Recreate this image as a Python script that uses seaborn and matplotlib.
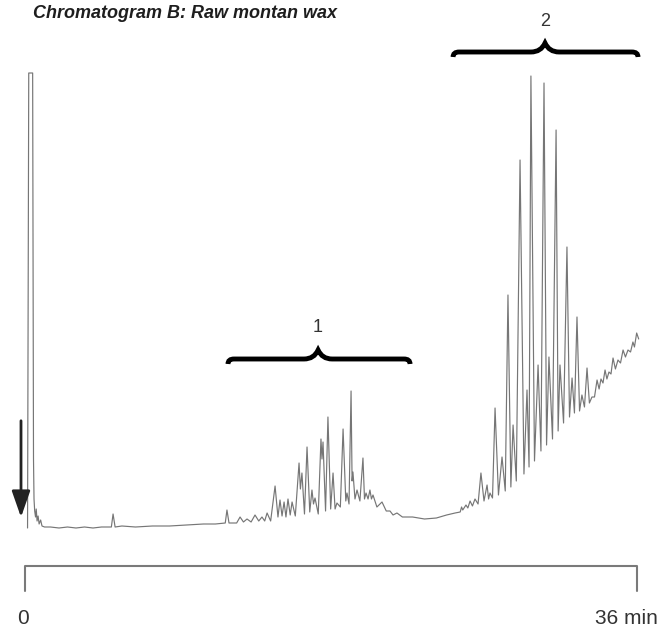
import numpy as np
import matplotlib
matplotlib.use("Agg")
import matplotlib.pyplot as plt
from matplotlib.path import Path
from matplotlib.patches import PathPatch
import seaborn as sns

# retention time (min) and detector signal (arbitrary units)
# valley / baseline points of the trace
valley_time = [0.15, 0.50, 0.53, 0.57, 0.62, 0.66, 0.71, 0.77, 0.83, 0.92, 1.00,
               1.15, 1.50, 2.00, 2.50, 3.00, 3.50, 4.00, 4.50, 5.08, 5.30, 5.70,
               6.50, 7.50, 8.50, 9.50, 10.50, 11.20, 11.78, 12.00, 12.45, 12.85,
               13.30, 13.75, 14.10, 14.45, 14.88, 15.12, 15.35, 15.60, 15.90,
               16.20, 16.44, 16.75, 16.97, 17.25, 17.47, 17.68, 17.98, 18.24,
               18.55, 18.87, 19.06, 19.24, 19.41, 19.70, 19.97, 20.18, 20.38,
               20.70, 21.25, 21.65, 22.20, 22.80, 23.50, 24.20, 24.80, 25.30,
               25.60, 25.75, 26.05, 26.32, 26.65, 27.00, 27.27, 27.50, 27.85,
               28.25, 28.58, 28.90, 29.35, 29.65, 29.97, 30.35, 30.68, 31.03,
               31.36, 31.68, 32.03, 32.32, 32.62, 32.91, 33.20, 33.50, 33.77,
               34.00, 34.23, 34.47, 34.73, 35.03, 35.32, 35.62, 35.85, 36.10]
valley_signal = [1, 70, 30, 18, 12, 20, 8, 13, 5, 9, 3,
                 2, 2, 1, 2, 1, 2, 1, 2, 2, 2, 3,
                 2, 3, 3, 4, 5, 5, 6, 6, 6, 7,
                 7, 8, 8, 8, 12, 13, 12, 14, 13,
                 40, 15, 17, 25, 15, 70, 18, 20, 20,
                 22, 28, 25, 48, 30, 28, 30, 30, 30,
                 22, 18, 14, 12, 12, 10, 11, 14, 16,
                 17, 19, 21, 23, 25, 28, 30, 31, 34,
                 38, 42, 48, 55, 62, 68, 78, 84, 90,
                 98, 106, 112, 116, 118, 122, 126, 132, 140,
                 146, 150, 155, 160, 166, 172, 177, 182, 190]

# peak apexes
apex_time = [0.22, 0.45, 5.18, 11.88, 12.65, 13.06, 13.53, 13.94, 14.24, 14.71,
             15.00, 15.24, 15.47, 15.71, 16.12, 16.29, 16.59, 16.88, 17.06,
             17.41, 17.53, 17.82, 18.12, 18.35, 18.71, 18.94, 19.18, 19.29,
             19.53, 19.88, 20.06, 20.29, 20.47, 21.00, 21.47, 21.88,
             25.68, 25.94, 26.18, 26.47, 26.82, 27.18, 27.35, 27.65, 28.06,
             28.41, 28.71, 29.12, 29.53, 29.76, 30.18, 30.53, 30.82, 31.24,
             31.47, 31.88, 32.18, 32.47, 32.76, 33.06, 33.35, 33.65, 33.88,
             34.12, 34.35, 34.59, 34.88, 35.18, 35.47, 35.76, 35.98]
apex_signal = [456, 456, 15, 19, 12, 10, 14, 12, 16, 43,
               29, 27, 30, 27, 66, 56, 82, 39, 31,
               90, 87, 112, 56, 26, 100, 36, 138, 57,
               39, 71, 36, 39, 34, 27, 18, 16,
               22, 24, 28, 30, 56, 44, 36, 121, 72,
               234, 104, 369, 139, 453, 164, 446, 172, 399,
               164, 282, 151, 212, 134, 161, 132, 149, 150,
               159, 157, 171, 169, 179, 179, 187, 196]

# peak groups marked with braces
group_label = ["1", "2"]
group_start = [11.94, 25.18]
group_end = [22.65, 36.06]
group_center = [17.24, 30.59]
group_level = [170, 477]

axis_ticks = [0, 36]
axis_labels = ["0", "36 min"]

sns.set_style("white")
plt.rcParams["font.family"] = ["Liberation Sans", "DejaVu Sans"]

# merge valleys and apexes into one trace, ordered by time
t_all = np.array(valley_time + apex_time)
s_all = np.array(valley_signal + apex_signal)
order = np.argsort(t_all)
trace_t = t_all[order]
trace_s = s_all[order]

fig = plt.figure(figsize=(6.66, 6.29), dpi=100)
ax = fig.add_axes([0, 0, 1, 1])
px = 1 / 17  # minutes per pixel
ax.set_xlim(-25 * px, 641 * px)
ax.set_ylim(-100, 529)
ax.axis("off")

sns.lineplot(x=trace_t, y=trace_s, ax=ax, sort=False, estimator=None,
             color="#767676", linewidth=0.85)


def brace(ax, t0, t1, tc, lev):
    verts = [(t0, lev - 5), (t0, lev), (t0 + 6 * px, lev),
             (tc - 14 * px, lev),
             (tc - 4 * px, lev), (tc, lev + 9),
             (tc + 4 * px, lev), (tc + 14 * px, lev),
             (t1 - 6 * px, lev),
             (t1, lev), (t1, lev - 5)]
    codes = [Path.MOVETO, Path.CURVE3, Path.CURVE3, Path.LINETO,
             Path.CURVE3, Path.CURVE3, Path.CURVE3, Path.CURVE3,
             Path.LINETO, Path.CURVE3, Path.CURVE3]
    ax.add_patch(PathPatch(Path(verts, codes), fill=False, lw=3.5,
                           edgecolor="black", capstyle="butt"))


for lab, a, b, c, lev in zip(group_label, group_start, group_end,
                             group_center, group_level):
    brace(ax, a, b, c, lev)
    ax.text(c, lev + 31, lab, ha="center", va="center", fontsize=13,
            color="#333333")

# injection arrow
ax.annotate("", xy=(-4 * px, 9), xytext=(-4 * px, 111),
            arrowprops=dict(arrowstyle="-|>,head_length=0.8,head_width=0.28",
                            color="#222222", lw=2, mutation_scale=20))

# time bar
ax.plot([axis_ticks[0], axis_ticks[0], axis_ticks[1], axis_ticks[1]],
        [-62, -37, -37, -62], color="#7a7a7a", lw=1.5)
ax.text(-2 * px, -89, axis_labels[0], ha="center", va="center",
        fontsize=15, color="#333333")
ax.text(35.4, -89, axis_labels[1], ha="center", va="center",
        fontsize=15, color="#333333")

fig.text(33 / 666, 1 - 13 / 629, "Chromatogram B: Raw montan wax",
         ha="left", va="center", fontsize=13, fontweight="bold",
         fontstyle="italic", color="#1e1e1e")

fig.savefig("out.png", dpi=100)
